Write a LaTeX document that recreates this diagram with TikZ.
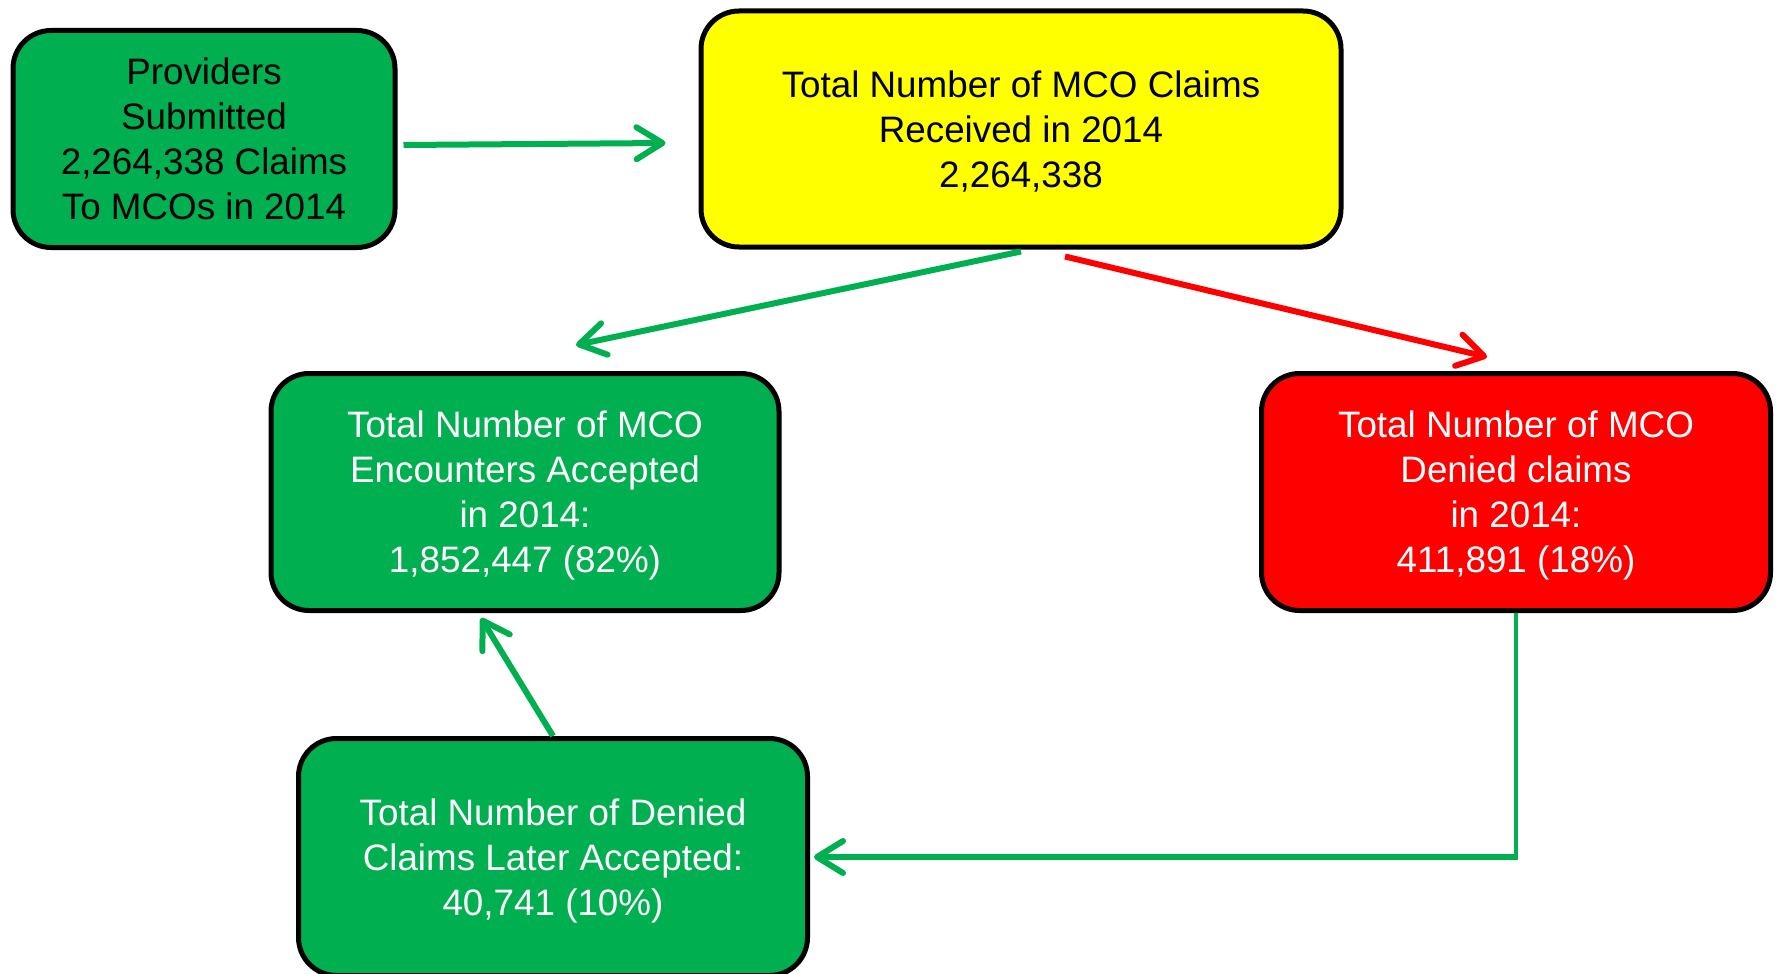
\documentclass[tikz,border=0pt]{standalone}
\usepackage{fontspec}
\setmainfont{Liberation Sans}
\usetikzlibrary{arrows.meta,calc}
\definecolor{bgreen}{HTML}{00B050}
\definecolor{byellow}{HTML}{FFFF00}
\definecolor{bred}{HTML}{FF0000}
\begin{document}
\begin{tikzpicture}[x=0.5pt,y=-0.5pt,
  box/.style={draw=black,line width=2.5pt,rounded corners=19pt,align=center,
    font=\fontsize{18.4}{22.5}\selectfont,inner sep=0pt,text depth=-3.8pt},
  arr/.style={line width=3pt,-{Straight Barb[length=13pt,width=16pt,line cap=round,line join=round]}},
  ]
\useasboundingbox (0,0) rectangle (1777,974);
\node[box,fill=bgreen,text=black,text depth=-0.5pt,minimum width=382pt*0.5,minimum height=217pt*0.5] (prov) at (204,139)
  {Providers\\Submitted\\2,264,338 Claims\\To MCOs in 2014};
\node[box,fill=byellow,text=black,minimum width=640pt*0.5,minimum height=236pt*0.5] (yel) at (1021,129)
  {Total Number of MCO Claims\\Received in 2014\\2,264,338};
\node[box,fill=bgreen,text=white,minimum width=508pt*0.5,minimum height=237pt*0.5] (acc) at (525,492)
  {Total Number of MCO\\Encounters Accepted\\in 2014:\\1,852,447 (82\%)};
\node[box,fill=bred,text=white,minimum width=509pt*0.5,minimum height=237pt*0.5] (den) at (1516,492)
  {Total Number of MCO\\Denied claims\\in 2014:\\411,891 (18\%)};
\node[box,fill=bgreen,text=white,text depth=-2pt,minimum width=509pt*0.5,minimum height=237pt*0.5] (lat) at (553,857)
  {Total Number of Denied\\Claims Later Accepted:\\40,741 (10\%)};
\draw[arr,bgreen] ($(prov.east)+(6,6)$) -- ($(yel.west)+(-33,14)$);
\draw[arr,bgreen] ($(yel.south)+(0,2)$) -- ($(acc.north)+(51,-26)$);
\draw[arr,bred] ($(yel.south)+(44,7)$) -- ($(den.north)+(-29,-14)$);
\draw[arr,bgreen] (lat.north) -- ($(acc.south)+(-44,5)$);
\coordinate (corner) at (den.south |- lat.east);
\draw[bgreen,line width=1.8pt] (den.south) -- ($(corner)+(0,3)$);
\draw[arr,bgreen] (corner) -- ($(lat.east)+(4,0)$);
\end{tikzpicture}
\end{document}
